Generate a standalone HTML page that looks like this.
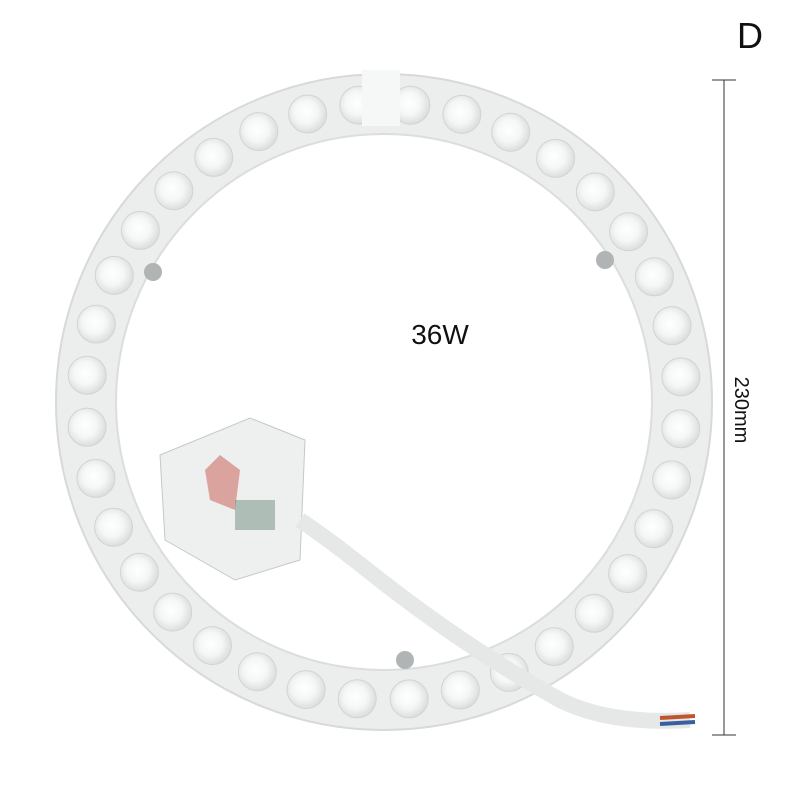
<!DOCTYPE html>
<html><head><style>
html,body{margin:0;padding:0;background:#fff;}
svg{display:block}
</style></head><body>
<svg width="800" height="800" viewBox="0 0 800 800" xmlns="http://www.w3.org/2000/svg">
<defs>
<radialGradient id="led" cx="45%" cy="45%" r="55%">
<stop offset="0" stop-color="#ffffff"/>
<stop offset="0.55" stop-color="#f5f6f6"/>
<stop offset="1" stop-color="#dcdede"/>
</radialGradient>
</defs>
<rect width="800" height="800" fill="#fff"/>
<circle cx="384" cy="402" r="298" fill="none" stroke="#eceeee" stroke-width="62"/>
<circle cx="384" cy="402" r="328" fill="none" stroke="#d8dada" stroke-width="2"/>
<circle cx="384" cy="402" r="268" fill="none" stroke="#dcdede" stroke-width="2"/>
<g id="leds"></g>
<rect x="362" y="70" width="38" height="56" fill="#f6f7f7"/>
<path d="M160 455 L250 418 L305 440 L300 560 L235 580 L165 540 Z" fill="#eef0f0" stroke="#c5c8c8"/>
<path d="M205 470 L220 455 L240 470 L235 510 L210 500 Z" fill="#c8554a" opacity="0.5"/>
<rect x="235" y="500" width="40" height="30" fill="#6e8a7a" opacity="0.5"/>
<path d="M300 520 Q330 540 380 580 Q470 650 560 700 Q610 725 690 720" fill="none" stroke="#e6e8e8" stroke-width="16"/>
<path d="M660 718 L695 716" stroke="#c0562e" stroke-width="4"/>
<path d="M660 724 L695 722" stroke="#3a5fa0" stroke-width="4"/>
<circle cx="153" cy="272" r="9" fill="#b0b4b4"/>
<circle cx="605" cy="260" r="9" fill="#b0b4b4"/>
<circle cx="405" cy="660" r="9" fill="#b0b4b4"/>
<line x1="724" y1="80" x2="724" y2="735" stroke="#333" stroke-width="1"/>
<line x1="712" y1="80" x2="736" y2="80" stroke="#333" stroke-width="1"/>
<line x1="712" y1="735" x2="736" y2="735" stroke="#333" stroke-width="1"/>
<text x="0" y="0" transform="translate(735,410) rotate(90)" text-anchor="middle" font-family="Liberation Sans, sans-serif" font-size="20" fill="#111">230mm</text>
<text x="750" y="48" text-anchor="middle" font-family="Liberation Sans, sans-serif" font-size="36" fill="#111">D</text>
<text x="440" y="344" text-anchor="middle" font-family="Liberation Sans, sans-serif" font-size="28" fill="#111">36W</text>
</svg>
<script>
var g=document.getElementById('leds');
for(var i=0;i<36;i++){
 var a=(i/36)*Math.PI*2 - Math.PI/2 + 0.09;
 var x=384+298*Math.cos(a), y=402+298*Math.sin(a);
 var c=document.createElementNS('http://www.w3.org/2000/svg','circle');
 c.setAttribute('cx',x);c.setAttribute('cy',y);c.setAttribute('r',19);
 c.setAttribute('fill','url(#led)');c.setAttribute('stroke','#d2d4d4');
 g.appendChild(c);
}
</script>
</body></html>
